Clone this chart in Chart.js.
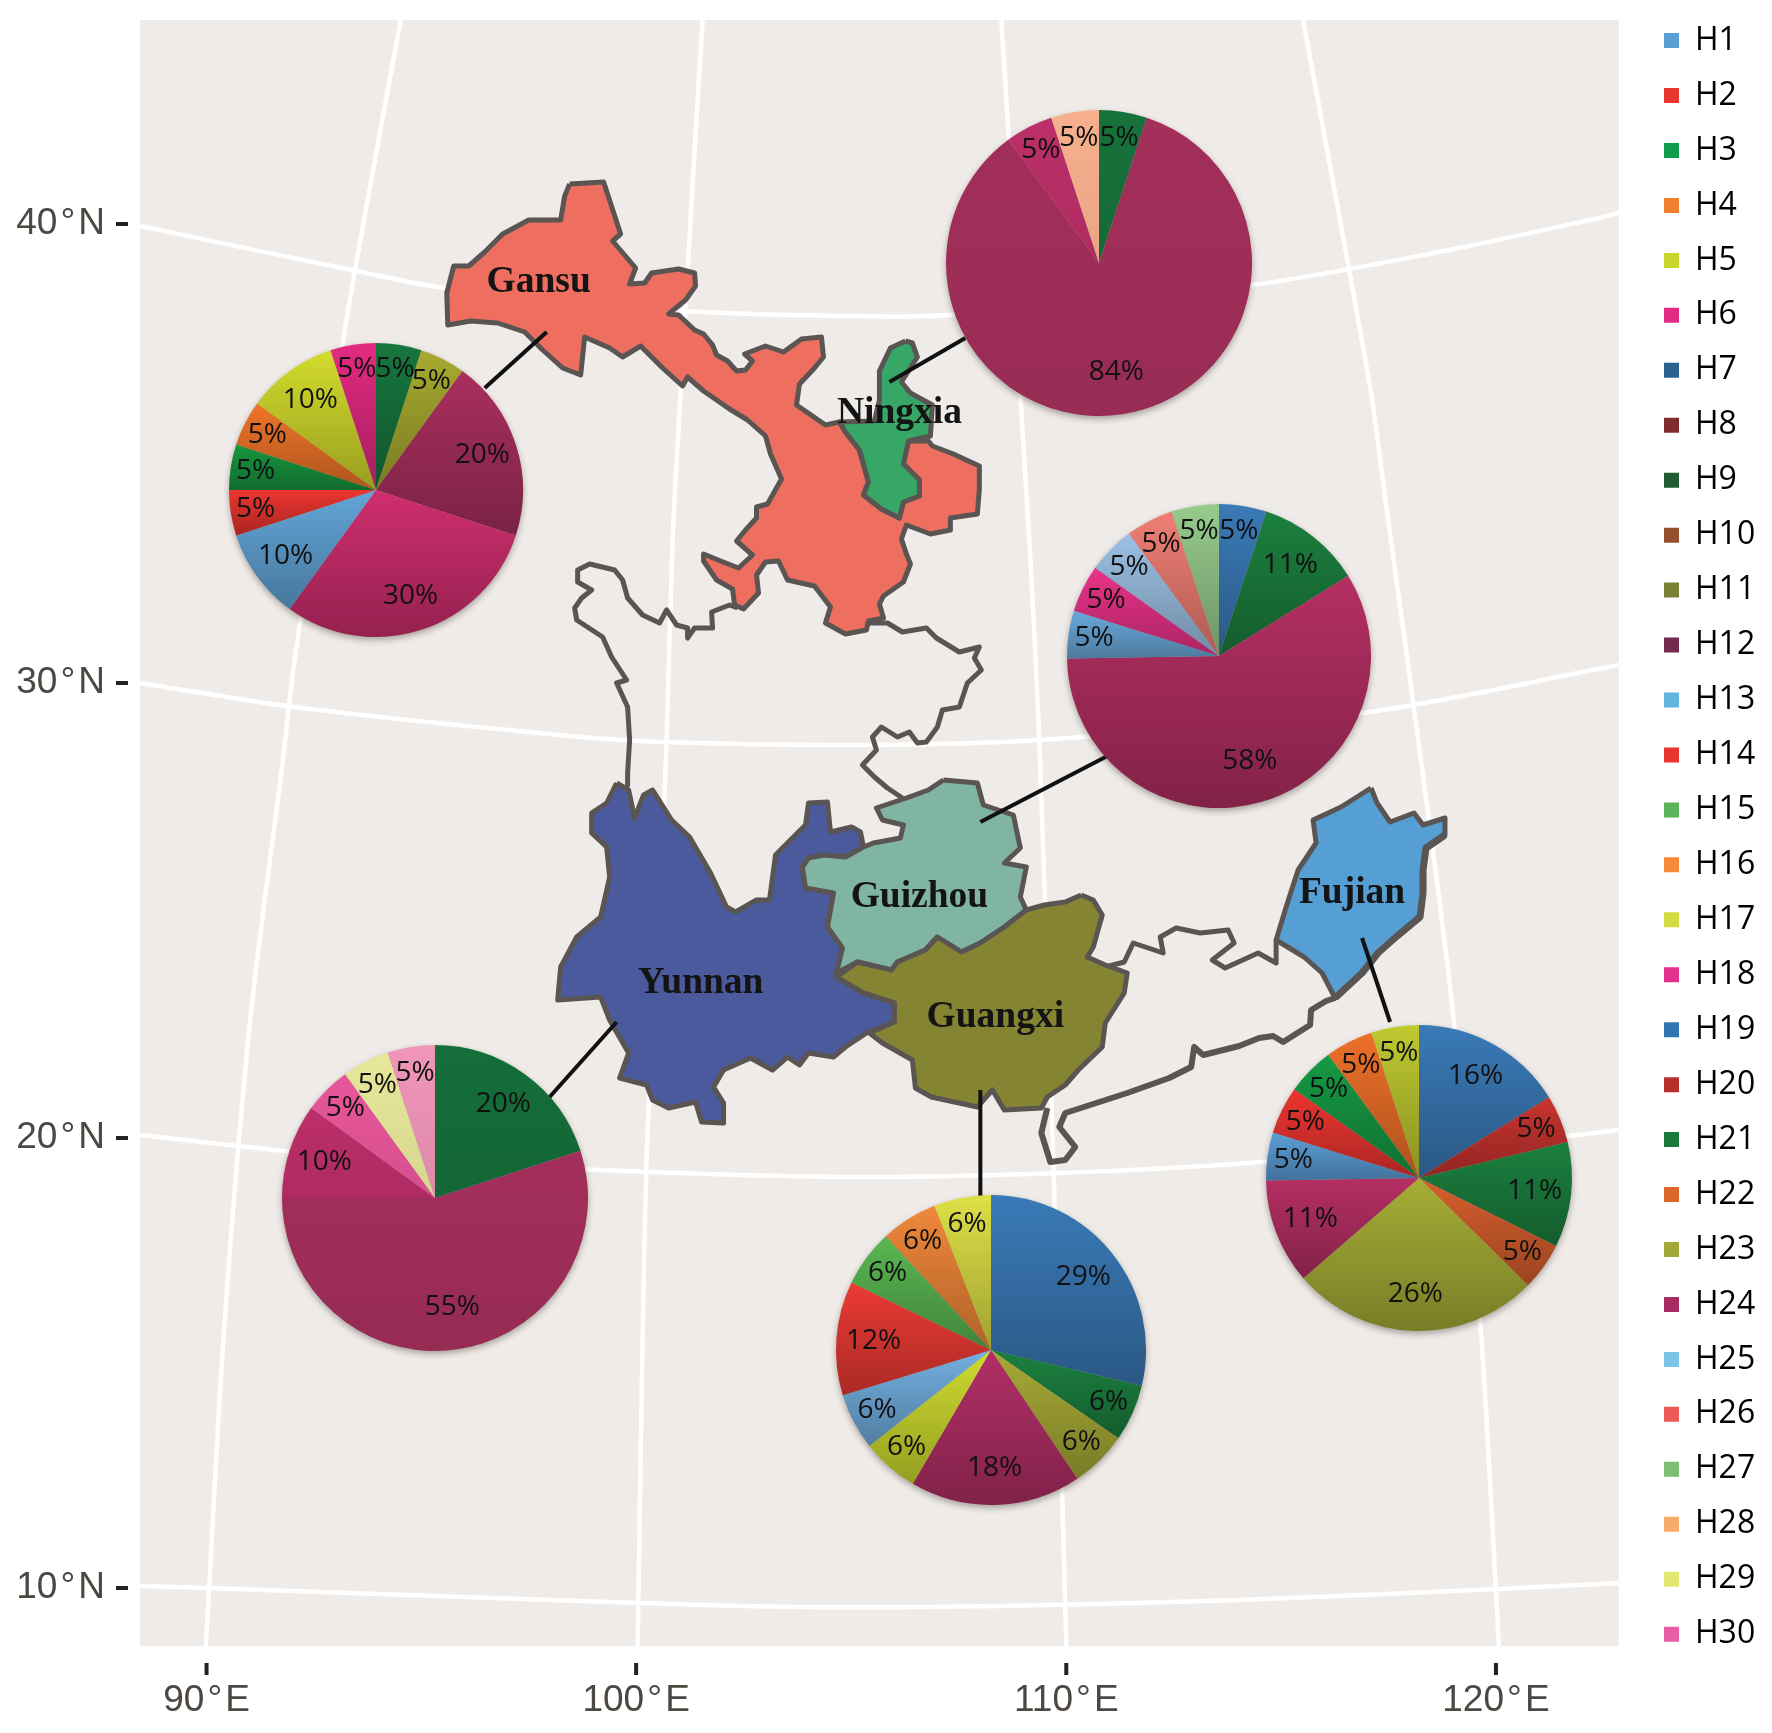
<!DOCTYPE html>
<html>
<head>
<meta charset="utf-8">
<title>Haplotype map</title>
<script src="https://cdn.jsdelivr.net/npm/chart.js@4"></script>
<style>
  html, body { margin: 0; padding: 0; background: #fff; }
  #wrap { position: relative; width: 1772px; height: 1733px; overflow: hidden; }
  #map { position: absolute; left: 0; top: 0; }
  .pie { position: absolute; filter: drop-shadow(0 3px 3px rgba(60,50,40,.4)); }
</style>
</head>
<body>
<div id="wrap"><canvas id="map" width="1772" height="1733"></canvas></div>
<script>
// axis ticks, the map is in projected units so the degree ticks are not evenly spaced
const lonTicks = [206.6, 636.5, 1067, 1497];
const lonLabels = ["90\u200a°\u200aE", "100\u200a°\u200aE", "110\u200a°\u200aE", "120\u200a°\u200aE"];
const latTicks = [1588, 1138, 683, 224];
const latLabels = ["10\u200a°\u200aN", "20\u200a°\u200aN", "30\u200a°\u200aN", "40\u200a°\u200aN"];

// legend
const haplotypes = ["H1","H2","H3","H4","H5","H6","H7","H8","H9","H10","H11","H12","H13","H14","H15",
  "H16","H17","H18","H19","H20","H21","H22","H23","H24","H25","H26","H27","H28","H29","H30"];
const haplotypeColors = ["#5a9fd4","#e8352f","#0f9d4b","#f27f30","#c9d62e","#e12c84","#2a618f","#7e2c2d","#1f5c32","#94502c",
  "#7b8037","#742a4c","#64b4e0","#e8352f","#5cb35a","#f68a3a","#d3db43","#e4308f","#2f75b0","#b5302b",
  "#1a7a3c","#dd672a","#a3a936","#a82a62","#7cc4e8","#ee5a55","#7dbd74","#f6ab6a","#e1e76f","#e85da3"];

// pies, clockwise from 12 o'clock
const gansuValues = [5, 5, 20, 30, 10, 5, 5, 5, 10, 5];
const gansuColors = ["#17763d","#a8ab2f","#a92f5e","#cf2e6e","#62a5d8","#eb352f","#16963f","#f0752a","#d3dc2c","#e42a82"];
const ningxiaValues = [5, 84, 5, 5];
const ningxiaColors = ["#17723a","#a32f5a","#bc2f68","#f8b08e"];
const guizhouValues = [5, 11, 58, 5, 5, 5, 5, 5];
const guizhouColors = ["#3a7ab8","#1c803f","#b52f62","#69a9dc","#e93389","#9cc1e4","#f07f74","#97cc8e"];
const yunnanValues = [20, 55, 10, 5, 5, 5];
const yunnanColors = ["#156f3a","#a32f5b","#bd2f6a","#e8569a","#e8e89b","#f096b8"];
const guangxiValues = [29, 6, 6, 18, 6, 6, 12, 6, 6, 6];
const guangxiColors = ["#3a7ab8","#1c803f","#a8ab36","#b22f65","#cfdc2f","#72afe0","#ec3a34","#5ab752","#f0883a","#dde046"];
const fujianValues = [16, 5, 11, 5, 26, 11, 5, 5, 5, 5, 5];
const fujianColors = ["#3a7ab8","#c9342f","#1c803f","#d65f2d","#a6ae36","#b52f62","#5c9fd8","#ec3530","#169a43","#ef7029","#bfca30"];

// graticule in projected units
const parallel40 = [[140,226],[400,280],[445,288],[686,311],[850,316],[949,315],[1253,285],[1450,250],[1600,218],[1620,213]];
const parallel30 = [[140,683],[294,707],[560,735],[663,742],[860,745],[1040,740],[1363,713],[1620,665]];
const parallel20 = [[140,1135],[339,1156],[600,1170],[850,1177],[1060,1173],[1250,1163],[1568,1136],[1620,1130]];
const parallel10 = [[140,1586],[207,1588],[638,1603],[800,1607],[1000,1606],[1240,1600],[1499,1589],[1620,1583]];
const meridian90 = [[401,20],[377,150],[345,330],[295,658],[283,760],[250,1023],[224,1332],[206,1646]];
const meridian100 = [[703,20],[695,150],[681,393],[673,540],[667,740],[662,860],[647,1160],[638,1646]];
const meridian110 = [[1002,20],[1010,150],[1021,393],[1030,540],[1040,740],[1054,1160],[1063,1497],[1067,1646]];
const meridian120 = [[1304,20],[1328,150],[1372,393],[1385,490],[1422,760],[1455,1023],[1482,1332],[1500,1646]];

// province outlines
const gansuOutline = [[570,184],[604,182],[621,234],[613,241],[636,268],[630,284],[645,283],[652,273],[679,269],[695,273],[696,286],[686,300],[669,314],[679,315],[695,330],[704,334],[713,345],[717,355],[728,361],[737,371],[746,370],[753,361],[745,354],[766,346],[784,352],[802,339],[822,337],[824,357],[815,368],[800,384],[797,405],[813,416],[826,425],[840,422],[846,432],[860,450],[864,464],[869,482],[864,495],[882,509],[900,518],[904,502],[920,496],[920,480],[904,464],[909,441],[929,441],[933,446],[954,454],[980,466],[980,489],[978,514],[951,518],[951,530],[931,534],[907,525],[902,539],[907,554],[911,564],[904,582],[884,596],[880,604],[884,618],[869,621],[867,630],[846,634],[826,623],[831,607],[815,586],[788,580],[779,561],[766,562],[757,575],[759,593],[744,609],[735,605],[733,589],[717,580],[704,561],[704,554],[721,561],[739,568],[753,555],[737,541],[746,530],[757,518],[757,507],[768,504],[782,479],[771,454],[766,436],[748,420],[730,409],[704,391],[688,377],[683,386],[663,368],[641,346],[623,357],[610,348],[585,337],[581,375],[563,368],[543,350],[525,332],[498,323],[471,321],[448,325],[447,293],[454,266],[469,266],[485,252],[503,234],[529,220],[561,220],[565,196]];
const ningxiaOutline = [[906,341],[913,343],[918,357],[902,382],[911,393],[933,405],[931,436],[909,441],[904,464],[920,480],[920,496],[904,502],[900,518],[882,509],[864,495],[869,482],[864,464],[860,450],[846,432],[840,422],[875,421],[880,400],[880,371],[891,348]];
const yunnanOutline = [[617,783],[629,790],[635,818],[644,795],[653,790],[672,820],[690,837],[711,873],[727,907],[736,912],[757,900],[770,900],[776,855],[791,840],[806,825],[809,803],[828,802],[831,832],[852,827],[861,832],[864,847],[846,857],[825,855],[809,858],[803,867],[806,888],[834,893],[828,927],[843,948],[837,977],[864,993],[895,1003],[895,1022],[867,1033],[846,1047],[834,1057],[809,1053],[800,1065],[788,1057],[773,1070],[751,1058],[724,1070],[714,1087],[724,1103],[724,1123],[702,1122],[696,1102],[669,1108],[653,1100],[647,1085],[620,1078],[629,1053],[610,1020],[601,997],[558,1000],[561,967],[577,937],[601,917],[610,877],[607,847],[592,833],[592,813],[607,803]];
const guizhouOutline = [[944,780],[978,783],[984,805],[1014,815],[1021,848],[1005,863],[1027,867],[1021,897],[1027,910],[1005,927],[981,943],[962,952],[938,937],[926,950],[898,962],[892,970],[858,962],[837,973],[843,948],[828,927],[834,893],[806,888],[803,867],[809,858],[825,855],[846,857],[864,847],[874,843],[901,838],[904,825],[883,820],[877,808],[907,798],[929,790]];
const guangxiOutline = [[1082,895],[1094,900],[1103,915],[1094,947],[1088,957],[1106,965],[1128,973],[1125,993],[1106,1023],[1103,1047],[1079,1070],[1066,1085],[1048,1097],[1042,1108],[1005,1110],[993,1090],[978,1107],[932,1097],[916,1088],[913,1060],[883,1043],[870,1033],[895,1022],[895,1003],[864,993],[837,977],[858,962],[892,970],[898,962],[926,950],[938,937],[962,952],[981,943],[1005,927],[1027,910],[1045,905],[1066,902]];
const fujianOutline = [[1372,788],[1378,803],[1391,822],[1415,813],[1424,825],[1446,818],[1446,835],[1427,848],[1424,870],[1424,893],[1421,917],[1397,937],[1379,953],[1363,973],[1336,998],[1323,973],[1305,957],[1277,940],[1287,907],[1299,870],[1317,843],[1314,820],[1342,807]];

// provinces that are only outlined, these stay open
const sichuanNorth = [[738,608],[730,605],[712,612],[713,628],[695,628],[688,638],[688,628],[677,625],[667,610],[660,623],[643,615],[628,598],[623,580],[615,570],[590,564],[578,570],[578,582],[592,590],[582,598],[575,608],[577,620],[603,637],[612,657],[627,680],[617,683],[628,707],[630,740],[628,773],[628,785]];
const sichuanEast = [[867,623],[888,623],[903,632],[927,628],[937,638],[960,652],[980,647],[975,658],[982,670],[968,683],[960,707],[943,710],[938,727],[927,742],[918,743],[910,732],[898,737],[882,727],[873,737],[877,750],[863,765],[875,777],[888,788],[903,798]];
const guangdongNorth = [[1106,967],[1125,962],[1134,943],[1164,953],[1161,937],[1177,928],[1201,933],[1229,930],[1235,943],[1213,960],[1226,968],[1259,953],[1277,963],[1277,940]];
const guangdongCoast = [[1336,998],[1327,1001],[1312,1010],[1311,1025],[1284,1042],[1274,1036],[1260,1038],[1240,1046],[1204,1055],[1195,1047],[1192,1067],[1170,1078],[1128,1093],[1097,1103],[1066,1113],[1060,1127],[1076,1147],[1066,1160],[1051,1162],[1042,1133],[1048,1108]];
const fujianCoast = [[1446,835],[1427,848],[1424,870],[1424,893],[1421,917],[1397,937],[1379,953],[1363,973],[1336,998]];

// leader lines from province to pie
const gansuLeader = [[547,332],[485,388]];
const ningxiaLeader = [[890,382],[966,338]];
const guizhouLeader = [[981,822],[1112,754]];
const yunnanLeader = [[617,1022],[549,1098]];
const guangxiLeader = [[981,1090],[981,1197]];
const fujianLeader = [[1363,938],[1391,1022]];

// province names
const provinceNames = ["Gansu", "Ningxia", "Guizhou", "Yunnan", "Guangxi", "Fujian"];
const provinceNameX = [539, 900, 920, 701, 996, 1353];
const provinceNameY = [292, 423, 907, 993, 1027, 903];

const toPoints = pts => pts.map(p => ({ x: p[0], y: p[1] }));

function graticule(pts) {
  return { data: toPoints(pts), showLine: true, pointRadius: 0, borderColor: "#ffffff", borderWidth: 4.5, tension: 0.3, fill: false };
}
function openOutline(pts, width) {
  return { data: toPoints(pts), showLine: true, pointRadius: 0, borderColor: "#5a5552", borderWidth: width || 5, borderJoinStyle: "round", fill: false };
}
function province(pts, color) {
  return { data: toPoints(pts.concat([pts[0]])), showLine: true, pointRadius: 0, borderColor: "#5a5552", borderWidth: 5,
    backgroundColor: color, fill: "shape", borderJoinStyle: "round" };
}
function leader(pts) {
  return { data: toPoints(pts), showLine: true, pointRadius: 0, borderColor: "#111111", borderWidth: 4, fill: false };
}

// later ones go on top
const mapDatasets = [
  graticule(parallel40), graticule(parallel30), graticule(parallel20), graticule(parallel10),
  graticule(meridian90), graticule(meridian100), graticule(meridian110), graticule(meridian120),
  openOutline(sichuanNorth), openOutline(sichuanEast), openOutline(guangdongNorth), openOutline(guangdongCoast, 6),
  province(gansuOutline, "#ee6e5f"),
  province(ningxiaOutline, "#37a768"),
  province(yunnanOutline, "#4a5a9c"),
  province(guizhouOutline, "#7fb5a2"),
  province(guangxiOutline, "#858433"),
  province(fujianOutline, "#559fd4"),
  openOutline(fujianCoast, 7),
  leader(gansuLeader), leader(ningxiaLeader), leader(guizhouLeader),
  leader(yunnanLeader), leader(guangxiLeader), leader(fujianLeader)
];
mapDatasets.forEach((d, i) => { d.order = -i; });

const mapPlugin = {
  id: "mapExtras",
  beforeDraw(chart) {
    const a = chart.chartArea;
    chart.ctx.save();
    chart.ctx.fillStyle = "#efebe8";
    chart.ctx.fillRect(a.left, a.top, a.width, a.height);
    chart.ctx.restore();
  },
  afterLayout(chart) {
    // legend sits a bit off the panel, with its first row above the panel top
    const pad = chart.legend.options.labels.padding;
    chart.legend.left = 1664 - pad;
    chart.legend.right = 1772;
    chart.legend.top = 40.6 - 16 - pad;
  },
  afterDatasetsDraw(chart) {
    const ctx = chart.ctx, sx = chart.scales.x, sy = chart.scales.y, a = chart.chartArea;
    ctx.save();
    ctx.fillStyle = "#141414";
    ctx.font = "bold 37.5px 'Liberation Serif'";
    ctx.textAlign = "center";
    ctx.textBaseline = "alphabetic";
    provinceNames.forEach((name, i) => {
      ctx.fillText(name, sx.getPixelForValue(provinceNameX[i]), sy.getPixelForValue(provinceNameY[i]));
    });
    // ticks stand clear of the panel
    ctx.strokeStyle = "#222222";
    ctx.lineWidth = 4;
    lonTicks.forEach(v => {
      const x = sx.getPixelForValue(v);
      ctx.beginPath(); ctx.moveTo(x, a.bottom + 17); ctx.lineTo(x, a.bottom + 29); ctx.stroke();
    });
    latTicks.forEach(v => {
      const y = sy.getPixelForValue(v);
      ctx.beginPath(); ctx.moveTo(a.left - 24, y); ctx.lineTo(a.left - 12, y); ctx.stroke();
    });
    ctx.restore();
  }
};

// the panel edges are fixed, no room left for overhanging tick labels
function fixAxis(s, size) {
  if (s.isHorizontal()) s.height = size; else s.width = size;
  s.paddingTop = s.paddingBottom = s.paddingLeft = s.paddingRight = 0;
}

const mapChart = new Chart(document.getElementById("map"), {
  type: "scatter",
  data: { datasets: mapDatasets },
  plugins: [mapPlugin],
  options: {
    responsive: false,
    animation: false,
    devicePixelRatio: 1,
    layout: { autoPadding: false, padding: { top: 20, right: 29, left: 0, bottom: 0 } },
    plugins: {
      tooltip: { enabled: false },
      legend: {
        position: "right",
        align: "start",
        labels: {
          boxWidth: 15,
          boxHeight: 15,
          padding: 22.95,
          color: "#1a1a1a",
          font: { family: "'Open Sans'", size: 32, lineHeight: 1 },
          generateLabels: () => haplotypes.map((h, i) => ({
            text: h, fillStyle: haplotypeColors[i], strokeStyle: haplotypeColors[i], lineWidth: 0, hidden: false, datasetIndex: 0
          }))
        }
      }
    },
    scales: {
      x: {
        type: "linear", min: 140, max: 1620,
        grid: { display: false }, border: { display: false },
        afterBuildTicks: s => { s.ticks = lonTicks.map(value => ({ value })); },
        afterFit: s => fixAxis(s, 87),
        ticks: {
          autoSkip: false, maxRotation: 0, padding: 25, color: "#4d4742",
          font: { family: "'Liberation Sans'", size: 37 },
          callback: (v, i) => lonLabels[i]
        }
      },
      y: {
        type: "linear", min: 20, max: 1646, reverse: true,
        grid: { display: false }, border: { display: false },
        afterBuildTicks: s => { s.ticks = latTicks.map(value => ({ value })); },
        afterFit: s => fixAxis(s, 140),
        ticks: {
          autoSkip: false, padding: 27, color: "#4d4742",
          font: { family: "'Liberation Sans'", size: 37 },
          callback: (v, i) => latLabels[i]
        }
      }
    }
  }
});

function shade(hex, f) {
  const n = parseInt(hex.slice(1), 16);
  const c = [n >> 16, (n >> 8) & 255, n & 255].map(v => Math.round(v * f));
  return "rgb(" + c.join(",") + ")";
}

// each slice runs from its own colour at the top of the slice to a darker one at the bottom
function sliceFill(values, colors, radius, dark) {
  const total = values.reduce((a, b) => a + b, 0);
  return ctx => {
    const i = ctx.dataIndex, area = ctx.chart.chartArea;
    if (i === undefined || !area) return colors[0];
    const before = values.slice(0, i).reduce((a, b) => a + b, 0);
    const from = before / total * 2 * Math.PI, to = (before + values[i]) / total * 2 * Math.PI;
    const cy = (area.top + area.bottom) / 2;
    let top = cy, bottom = cy;
    for (let k = 0; k <= 24; k++) {
      const y = cy - radius * Math.cos(from + (to - from) * k / 24);
      top = Math.min(top, y);
      bottom = Math.max(bottom, y);
    }
    const g = ctx.chart.ctx.createLinearGradient(0, top, 0, bottom);
    g.addColorStop(0, colors[i]);
    g.addColorStop(1, shade(colors[i], dark));
    return g;
  };
}

const percentLabels = {
  id: "percentLabels",
  afterDatasetsDraw(chart) {
    const ctx = chart.ctx, values = chart.data.datasets[0].data;
    ctx.save();
    ctx.fillStyle = "#111111";
    ctx.font = "28px 'Open Sans'";
    ctx.textAlign = "center";
    ctx.textBaseline = "middle";
    chart.getDatasetMeta(0).data.forEach((arc, i) => {
      const p = arc.getProps(["x", "y", "startAngle", "endAngle", "outerRadius"]);
      const mid = (p.startAngle + p.endAngle) / 2;
      const r = p.outerRadius * (values[i] > 50 ? 0.72 : values[i] > 9 ? 0.76 : 0.83);
      ctx.fillText(values[i] + "%", p.x + r * Math.cos(mid), p.y + r * Math.sin(mid));
    });
    ctx.restore();
  }
};

function addPie(cx, cy, radius, values, colors, dark) {
  const size = 2 * radius + 16;
  const c = document.createElement("canvas");
  c.className = "pie";
  c.width = size;
  c.height = size;
  c.style.left = (mapChart.scales.x.getPixelForValue(cx) - size / 2) + "px";
  c.style.top = (mapChart.scales.y.getPixelForValue(cy) - size / 2) + "px";
  document.getElementById("wrap").appendChild(c);
  new Chart(c, {
    type: "pie",
    data: { labels: values.map(String), datasets: [{ data: values, borderWidth: 0, backgroundColor: sliceFill(values, colors, radius, dark) }] },
    plugins: [percentLabels],
    options: {
      responsive: false,
      animation: false,
      devicePixelRatio: 1,
      radius: radius,
      plugins: { legend: { display: false }, tooltip: { enabled: false } }
    }
  });
}

addPie(375.7, 490, 147, gansuValues, gansuColors, 0.72);
addPie(1100, 263, 153, ningxiaValues, ningxiaColors, 0.93);
addPie(1220, 656, 152, guizhouValues, guizhouColors, 0.72);
addPie(435, 1198, 153, yunnanValues, yunnanColors, 0.92);
addPie(991.7, 1350, 155, guangxiValues, guangxiColors, 0.72);
addPie(1420, 1178, 153, fujianValues, fujianColors, 0.72);
</script>
</body>
</html>
